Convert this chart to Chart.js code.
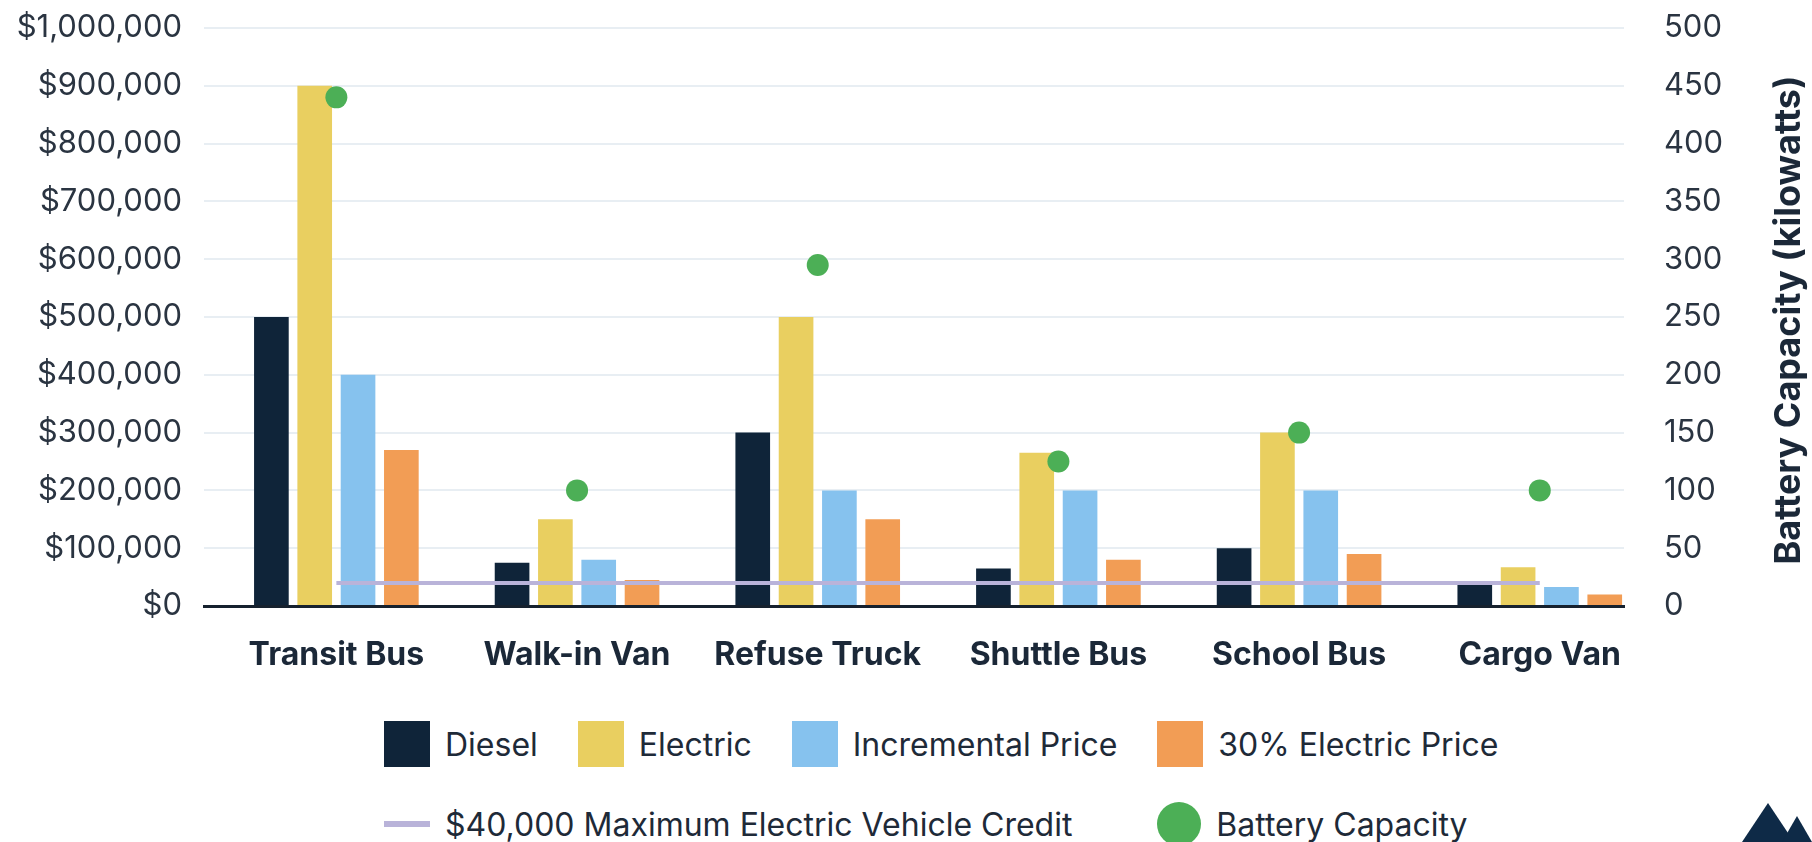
<!DOCTYPE html>
<html>
<head>
<meta charset="utf-8">
<script src="https://cdn.jsdelivr.net/npm/chart.js@4.4.1/dist/chart.umd.min.js"></script>
<style>
  html, body { margin: 0; padding: 0; background: #fff; }
  #wrap { position: relative; width: 1812px; height: 842px; overflow: hidden; font-family: Inter, "Noto Sans", sans-serif; }
  #chartBox { position: absolute; left: 0; top: 0; width: 1812px; height: 690px; }
  #legend { position: absolute; left: 384px; top: 721px; display: grid; grid-template-columns: repeat(4, auto); column-gap: 40px; row-gap: 34px; }
  .item { display: flex; align-items: center; height: 46px; font-size: 32px; color: #1e2a38; white-space: nowrap; }
  .sw { flex: none; margin-right: 15px; }
  #logo { position: absolute; right: 0; bottom: 0; }
</style>
</head>
<body>
<div id="wrap">
  <div id="chartBox"><canvas id="evChart"></canvas></div>
  <div id="legend"></div>
  <svg id="logo" width="70" height="42" viewBox="0 0 70 42">
    <polygon points="0,42 26,3 52,42" fill="#0e2a47"/>
    <polygon points="40,42 55,16 70,42" fill="#0e2a47"/>
  </svg>
</div>
<script>
// categories & values
const categories = ['Transit Bus', 'Walk-in Van', 'Refuse Truck', 'Shuttle Bus', 'School Bus', 'Cargo Van'];
const dieselPrice = [500000, 75000, 300000, 65000, 100000, 40000];
const electricPrice = [900000, 150000, 500000, 265000, 300000, 67000];
const incrementalPrice = [400000, 80000, 200000, 200000, 200000, 33000];
const electric30Price = [270000, 45000, 150000, 80000, 90000, 20000];
const creditCap = [40000, 40000, 40000, 40000, 40000, 40000];
const batteryKw = [440, 100, 295, 125, 150, 100];

// tick values
const priceTicks = [0, 100000, 200000, 300000, 400000, 500000, 600000, 700000, 800000, 900000, 1000000];
const batteryTicks = [0, 50, 100, 150, 200, 250, 300, 350, 400, 450, 500];

// x range (category index), a little uneven like the original
const X_MIN = -0.55;
const X_MAX = 5.35;

const FONT = 'Inter, "Noto Sans", sans-serif';
const toPoints = arr => arr.map((v, i) => ({ x: i, y: v }));
const noPadding = axis => { axis.paddingTop = 0; axis.paddingBottom = 0; axis.paddingLeft = 0; axis.paddingRight = 0; };

const datasets = [
    { type: 'bar', label: 'Diesel', data: toPoints(dieselPrice), backgroundColor: '#0f2439', order: 2, swatch: 'box' },
    { type: 'bar', label: 'Electric', data: toPoints(electricPrice), backgroundColor: '#e9cf60', order: 2, swatch: 'box' },
    { type: 'bar', label: 'Incremental Price', data: toPoints(incrementalPrice), backgroundColor: '#86c2ee', order: 2, swatch: 'box' },
    { type: 'bar', label: '30% Electric Price', data: toPoints(electric30Price), backgroundColor: '#f29d55', order: 2, swatch: 'box' },
    { type: 'line', label: '$40,000 Maximum Electric Vehicle Credit', data: toPoints(creditCap), borderColor: '#b9b3d9', backgroundColor: '#b9b3d9', borderWidth: 4, pointRadius: 0, order: 1, swatch: 'line' },
    { type: 'scatter', label: 'Battery Capacity', data: toPoints(batteryKw), yAxisID: 'y1', backgroundColor: '#4caf56', borderWidth: 0, pointRadius: 11, pointHoverRadius: 11, order: 0, swatch: 'dot' }
];

// titre de l'axe droit, lu de bas en haut
const rightTitle = {
    id: 'rightTitle',
    afterDraw(chart) {
        const s = chart.scales.y1;
        const ctx = chart.ctx;
        ctx.save();
        ctx.translate(s.right - 23, (s.top + s.bottom) / 2 + 3);
        ctx.rotate(-Math.PI / 2);
        ctx.font = 'bold 36px ' + FONT;
        ctx.fillStyle = '#1b2838';
        ctx.textAlign = 'center';
        ctx.textBaseline = 'middle';
        ctx.fillText('Battery Capacity (kilowatts)', 0, 0);
        ctx.restore();
    }
};

new Chart(document.getElementById('evChart'), {
    type: 'bar',
    data: { datasets: datasets },
    options: {
        responsive: true,
        maintainAspectRatio: false,
        animation: false,
        categoryPercentage: 0.72,
        barPercentage: 0.8,
        layout: { padding: { top: 28, left: 0, right: 0, bottom: 0 } },
        plugins: { legend: { display: false }, tooltip: { enabled: false } },
        scales: {
            x: {
                type: 'linear',
                min: X_MIN,
                max: X_MAX,
                offset: false,
                bounds: 'data',
                grid: { display: false, drawTicks: false, offset: false },
                border: { display: true, color: '#16212e', width: 3 },
                afterBuildTicks: axis => {
                    axis.ticks = categories.map((c, i) => ({ value: i }));
                    axis.min = X_MIN;
                    axis.max = X_MAX;
                },
                afterFit: axis => { axis.height = 84; noPadding(axis); },
                ticks: {
                    callback: v => categories[v],
                    autoSkip: false,
                    maxRotation: 0,
                    padding: 30,
                    color: '#1b2838',
                    font: { family: FONT, size: 32, weight: 'bold' }
                }
            },
            y: {
                position: 'left',
                min: 0,
                max: 1000000,
                grid: { color: '#e8eef3', lineWidth: 2, drawTicks: false },
                border: { display: false },
                afterBuildTicks: axis => { axis.ticks = priceTicks.map(v => ({ value: v })); },
                afterFit: axis => { axis.width = 204; noPadding(axis); },
                ticks: {
                    callback: v => '$' + v.toLocaleString('en-US'),
                    padding: 22,
                    color: '#2a3441',
                    font: { family: FONT, size: 31 }
                }
            },
            y1: {
                position: 'right',
                min: 0,
                max: 500,
                grid: { display: false, drawTicks: false },
                border: { display: false },
                afterBuildTicks: axis => { axis.ticks = batteryTicks.map(v => ({ value: v })); },
                afterFit: axis => { axis.width = 188; noPadding(axis); },
                ticks: {
                    padding: 40,
                    color: '#2a3441',
                    font: { family: FONT, size: 31 }
                }
            }
        }
    },
    plugins: [rightTitle]
});

// Légende en HTML (carrés plus grands que le texte)
const legend = document.getElementById('legend');
datasets.forEach(ds => {
    const item = document.createElement('div');
    item.className = 'item';
    const sw = document.createElement('span');
    sw.className = 'sw';
    if (ds.swatch === 'box') {
        sw.style.cssText = 'width:46px;height:46px;background:' + ds.backgroundColor;
    } else if (ds.swatch === 'line') {
        sw.style.cssText = 'width:46px;height:6px;background:' + ds.borderColor;
        item.style.gridColumn = '1 / span 3';
    } else {
        sw.style.cssText = 'width:44px;height:44px;border-radius:50%;background:' + ds.backgroundColor;
        item.style.gridColumn = '4';
    }
    item.appendChild(sw);
    item.appendChild(document.createTextNode(ds.label));
    legend.appendChild(item);
});
</script>
</body>
</html>
